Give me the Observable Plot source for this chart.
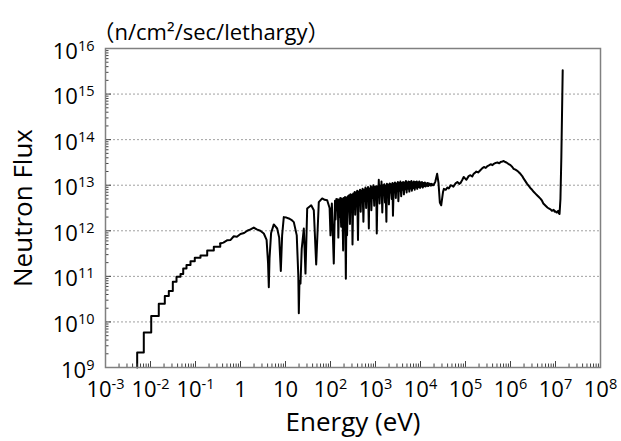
<!DOCTYPE html>
<html><head><meta charset="utf-8">
<script src="https://cdn.jsdelivr.net/npm/d3@7"></script>
<script src="https://cdn.jsdelivr.net/npm/@observablehq/plot@0.6"></script>
<style>body{margin:0;background:#fff} #chart svg{display:block}</style>
</head><body><div id="chart"></div>
<script>
// Tick values and labels
const xTicks = [1e-3, 1e-2, 1e-1, 1, 10, 1e2, 1e3, 1e4, 1e5, 1e6, 1e7, 1e8];
const xTickLabels = ["10^-3", "10^-2", "10^-1", "1", "10", "10^2", "10^3", "10^4", "10^5", "10^6", "10^7", "10^8"];
const yTicks = [1e9, 1e10, 1e11, 1e12, 1e13, 1e14, 1e15, 1e16];
const yTickLabels = ["10^9", "10^10", "10^11", "10^12", "10^13", "10^14", "10^15", "10^16"];
const gridValues = [1e10, 1e11, 1e12, 1e13, 1e14, 1e15];

// Thermal region (histogram steps): log10(E/eV), log10(flux)
const thermalLog10E = [-2.296, -2.296, -2.149, -1.984, -1.816, -1.682, -1.593, -1.504, -1.422, -1.333, -1.273, -1.2, -1.111, -1.016, -0.889, -0.74, -0.593, -0.45];
const thermalLog10F = [9.0, 9.33, 9.77, 10.13, 10.40, 10.57, 10.68, 10.88, 10.99, 11.05, 11.17, 11.25, 11.33, 11.41, 11.46, 11.57, 11.65, 11.72];

// Epithermal, resonance and fast region: log10(E/eV), log10(flux)
const spectrumLog10E = [
 -0.45, -0.38, -0.30, -0.22, -0.149, -0.08, 0.0, 0.08, 0.15, 0.222, 0.296, 0.36, 0.44, 0.518, 0.58, 0.612, 0.629, 0.645, 0.68, 0.74, 0.815, 0.86, 0.896, 0.925, 0.962, 1.02, 1.073, 1.13, 1.185, 1.25, 1.285, 1.296, 1.31, 1.333, 1.36, 1.407, 1.444, 1.482, 1.571, 1.629, 1.682, 1.74, 1.815, 1.87, 1.926, 1.98, 2.0, 2.03, 2.073,
 2.100, 2.112, 2.131, 2.143, 2.162, 2.174, 2.191, 2.207, 2.218, 2.237, 2.249, 2.266, 2.281, 2.293, 2.312, 2.323, 2.341, 2.357, 2.368, 2.387,
 2.401, 2.413, 2.432, 2.444, 2.458, 2.477, 2.489, 2.506, 2.519, 2.537, 2.548, 2.566, 2.582, 2.593, 2.611, 2.627, 2.638, 2.656, 2.671, 2.683,
 2.702, 2.713, 2.731, 2.747, 2.758, 2.776, 2.792, 2.803, 2.821, 2.834, 2.852, 2.863, 2.881, 2.897, 2.908, 2.926, 2.942, 2.953, 2.972, 2.984,
 3.001, 3.017, 3.028, 3.046, 3.062, 3.073, 3.091, 3.104, 3.122, 3.133, 3.151, 3.167, 3.178, 3.196, 3.211, 3.223, 3.242, 3.254, 3.268, 3.287,
 3.298, 3.316, 3.332, 3.343, 3.361, 3.377, 3.388, 3.406, 3.422, 3.433, 3.452, 3.463, 3.481, 3.497, 3.508, 3.526, 3.542, 3.553, 3.571, 3.584,
 3.602, 3.613, 3.631, 3.647, 3.658, 3.676, 3.692, 3.703, 3.721, 3.733, 3.752, 3.763, 3.781, 3.797, 3.808, 3.826, 3.842, 3.853, 3.871, 3.884,
 3.901, 3.917, 3.928, 3.946, 3.962, 3.973, 3.991, 4.004, 4.022, 4.033, 4.051, 4.067, 4.078, 4.096, 4.111, 4.123, 4.142, 4.154, 4.168, 4.187,
 4.201, 4.213, 4.232, 4.244, 4.261, 4.274, 4.290,
 4.33, 4.37, 4.40, 4.43, 4.46, 4.50, 4.52, 4.56, 4.60, 4.63, 4.67, 4.70, 4.73, 4.78, 4.82, 4.86, 4.89, 4.93, 4.96, 5.00, 5.02, 5.07, 5.11, 5.15, 5.18, 5.21, 5.24, 5.28, 5.33, 5.37, 5.41, 5.45, 5.49, 5.53, 5.56, 5.60, 5.63, 5.67, 5.71, 5.75, 5.78, 5.82, 5.85, 5.88, 5.91, 5.95, 6.00, 6.04, 6.07, 6.11, 6.16, 6.19, 6.22, 6.26, 6.29, 6.33, 6.37, 6.41, 6.44, 6.48, 6.52, 6.56, 6.59, 6.63, 6.67, 6.70, 6.73, 6.78, 6.82, 6.85, 6.89, 6.92, 6.96, 6.98, 7.00, 7.02, 7.04, 7.06, 7.07, 7.09, 7.11, 7.13, 7.16
];
const spectrumLog10F = [
 11.72, 11.74, 11.79, 11.80, 11.88, 11.87, 11.93, 11.95, 12.00, 12.03, 12.07, 12.03, 12.00, 11.94, 11.80, 11.30, 10.76, 11.40, 11.95, 12.14, 12.05, 11.85, 11.12, 11.90, 12.30, 12.29, 12.27, 12.24, 12.19, 11.90, 11.00, 10.19, 10.90, 10.84, 11.60, 12.05, 11.06, 12.49, 12.56, 12.45, 11.26, 12.63, 12.71, 12.68, 12.67, 12.50, 11.90, 12.60, 11.28,
 12.66, 12.25, 12.70, 12.45, 12.69, 11.85, 12.68, 12.30, 12.72, 12.09, 12.71, 12.40, 11.57, 12.72, 12.48, 12.74, 10.95, 12.73, 11.90, 12.76,
 12.50, 12.78, 12.15, 12.80, 12.55, 12.79, 11.70, 12.82, 12.58, 12.85, 12.35, 12.84, 12.60, 12.88, 11.80, 12.86, 12.62, 12.90, 12.42, 12.88,
 12.65, 12.92, 12.20, 12.90, 12.66, 12.95, 12.50, 12.92, 12.68, 12.96, 12.05, 12.93, 12.70, 12.98, 12.45, 12.95, 12.72, 13.00, 12.55, 12.96,
 12.74, 12.98, 11.94, 12.97, 12.75, 13.12, 12.60, 12.99, 12.78, 13.08, 12.40, 13.00, 12.80, 13.02, 12.62, 12.99, 12.20, 13.03, 12.82, 13.01,
 12.58, 13.04, 12.84, 13.02, 12.70, 13.05, 12.33, 13.03, 12.86, 13.06, 12.72, 13.04, 12.87, 13.07, 12.65, 13.05, 12.88, 13.08, 12.76, 13.05,
 12.90, 13.07, 12.80, 13.06, 12.91, 13.09, 12.84, 13.06, 12.92, 13.08, 12.86, 13.07, 12.93, 13.09, 12.88, 13.06, 12.94, 13.08, 12.90, 13.07,
 12.95, 13.08, 12.92, 13.06, 12.96, 13.08, 12.94, 13.06, 12.97, 13.07, 12.95, 13.05, 12.98, 13.06, 12.97, 13.04, 12.99, 13.05, 12.98, 13.04,
 13.00, 13.03, 12.99, 13.03, 13.00, 13.02, 13.00,
 13.08, 13.25, 13.05, 12.62, 12.56, 12.85, 12.92, 12.90, 12.95, 12.93, 13.00, 12.99, 12.97, 13.04, 13.07, 13.03, 13.05, 13.12, 13.18, 13.14, 13.12, 13.20, 13.22, 13.19, 13.25, 13.27, 13.30, 13.28, 13.33, 13.37, 13.40, 13.38, 13.42, 13.44, 13.46, 13.44, 13.47, 13.49, 13.50, 13.48, 13.51, 13.52, 13.53, 13.51, 13.50, 13.47, 13.44, 13.40, 13.36, 13.34, 13.31, 13.28, 13.25, 13.20, 13.15, 13.09, 13.03, 12.98, 12.94, 12.90, 12.85, 12.81, 12.78, 12.74, 12.70, 12.66, 12.60, 12.55, 12.51, 12.49, 12.47, 12.44, 12.46, 12.42, 12.43, 12.40, 12.41, 12.44, 12.39, 12.37, 12.70, 13.62, 15.52
];

const thermal = thermalLog10E.map((e, i) => ({E: 10 ** e, F: 10 ** thermalLog10F[i]}));
const spectrum = spectrumLog10E.map((e, i) => ({E: 10 ** e, F: 10 ** spectrumLog10F[i]}));

const decadesX = d3.range(-3, 8);
const xMinor = decadesX.flatMap(p => d3.range(2, 10).map(m => m * 10 ** p));
const decadesY = d3.range(9, 16);
const yMinor = decadesY.flatMap(p => d3.range(2, 10).map(m => m * 10 ** p));

const labelFor = (ticks, labels) => d => {
  const k = ticks.findIndex(t => Math.abs(Math.log10(t) - Math.log10(d)) < 1e-6);
  return k < 0 ? "" : labels[k];
};

const chart = Plot.plot({
  width: 621, height: 441,
  marginLeft: 105, marginRight: 21, marginTop: 48, marginBottom: 74,
  style: {fontFamily: "'Open Sans', 'Noto Sans CJK JP', sans-serif", color: "#000", background: "#fff"},
  x: {type: "log", domain: [1e-3, 1e8]},
  y: {type: "log", domain: [1e9, 1e16]},
  marks: [
    Plot.gridY(gridValues, {stroke: "#a0a0a0", strokeOpacity: 1, strokeDasharray: "2,2", strokeWidth: 1}),
    Plot.line(thermal, {x: "E", y: "F", curve: "step-after", stroke: "#000", strokeWidth: 2}),
    Plot.line(spectrum, {x: "E", y: "F", stroke: "#000", strokeWidth: 2, strokeLinejoin: "round"}),
    Plot.axisX({ticks: xMinor, tickSize: -3.5, tickFormat: () => "", label: null, stroke: "#444"}),
    Plot.axisX({ticks: xTicks, tickSize: -6, tickFormat: () => "", label: null, stroke: "#444"}),
    Plot.axisX({ticks: xTicks, tickSize: 0, tickPadding: 14, fontSize: 22, tickFormat: labelFor(xTicks, xTickLabels), label: null}),
    Plot.axisY({ticks: yMinor, tickSize: -3.5, tickFormat: () => "", label: null, stroke: "#444"}),
    Plot.axisY({ticks: yTicks, tickSize: -6, tickFormat: () => "", label: null, stroke: "#444"}),
    Plot.axisY({ticks: yTicks, tickSize: 0, tickPadding: 11, fontSize: 22, dy: 3, tickFormat: labelFor(yTicks, yTickLabels), label: null}),
    Plot.frame({stroke: "#808080", strokeWidth: 1.5}),
    Plot.text(["Energy (eV)"], {frameAnchor: "bottom", dy: 63, fontSize: 26, lineAnchor: "bottom", fill: "#000"}),
    Plot.text(["Neutron Flux"], {frameAnchor: "left", textAnchor: "middle", dx: -82, rotate: -90, fontSize: 26, fill: "#000"}),
    Plot.text(["（n/cm²/sec/lethargy）"], {frameAnchor: "top-left", textAnchor: "start", dx: -13, dy: -9, lineAnchor: "bottom", fontSize: 22, fill: "#000"})
  ]
});

// render exponents as superscripts, full-width parentheses with the CJK font
chart.querySelectorAll("text").forEach(t => {
  const s = t.textContent;
  if (s.startsWith("10^")) {
    t.textContent = "10";
    const sup = document.createElementNS("http://www.w3.org/2000/svg", "tspan");
    sup.setAttribute("font-size", "14.5");
    sup.setAttribute("dy", "-8");
    sup.textContent = s.slice(3);
    t.appendChild(sup);
  } else if (s.includes("（")) {
    t.textContent = "";
    s.split(/([（）])/).filter(p => p).forEach(p => {
      const sp = document.createElementNS("http://www.w3.org/2000/svg", "tspan");
      if (p === "（" || p === "）") sp.setAttribute("font-family", "'Noto Sans CJK JP'");
      sp.textContent = p;
      t.appendChild(sp);
    });
  }
});
document.getElementById("chart").appendChild(chart);
</script></body></html>
